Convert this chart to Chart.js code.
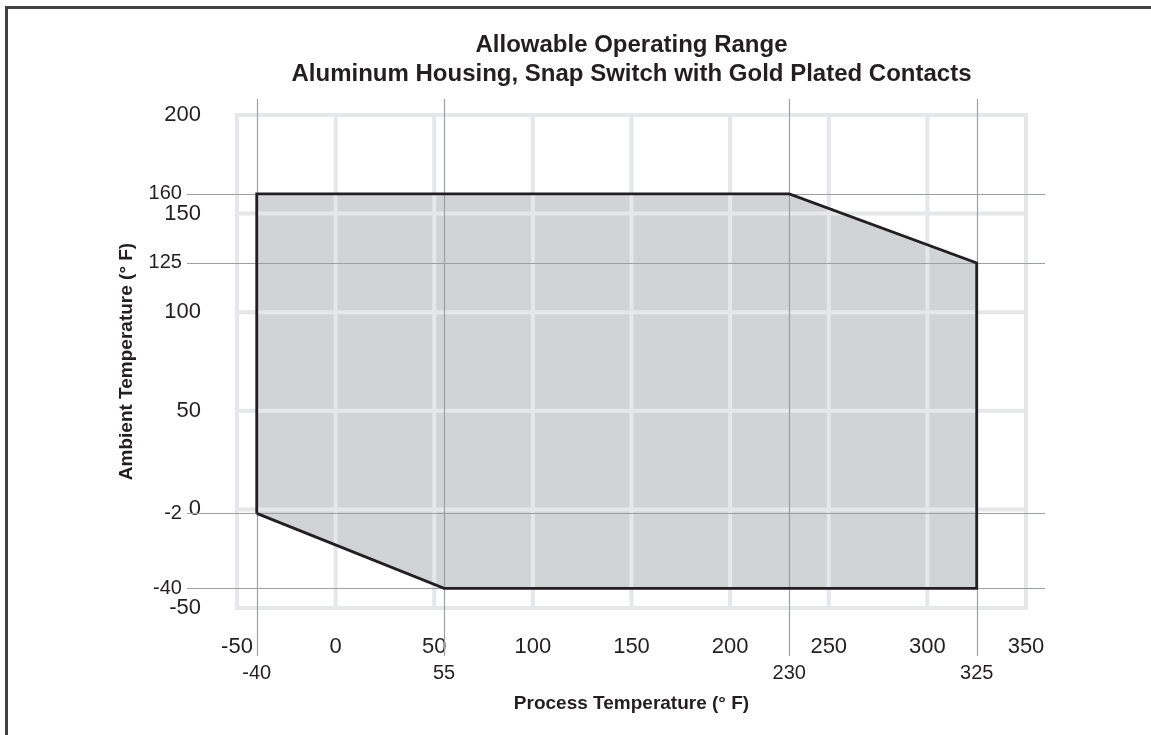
<!DOCTYPE html>
<html>
<head>
<meta charset="utf-8">
<title>Allowable Operating Range</title>
<script src="https://cdn.jsdelivr.net/npm/chart.js@4.4.0/dist/chart.umd.min.js"></script>
<style>
  html, body { margin: 0; padding: 0; background: #fff; }
  #wrap { position: relative; width: 1151px; height: 735px; overflow: hidden; }
  #frame {
    position: absolute; left: 5px; top: 6px; right: 0; bottom: 0;
    border-top: 3px solid #404040; border-left: 3px solid #404040;
    pointer-events: none;
  }
</style>
</head>
<body>
<div id="wrap">
  <canvas id="chart" width="1151" height="735"></canvas>
  <div id="frame"></div>
</div>
<script>
// outline of the allowed region, walked around clockwise
const processTemp = [-40, -40, 230, 325, 325, 55, -40];
const ambientTemp = [-2, 160, 160, 125, -40, -40, -2];

const xTicks = [-50, 0, 50, 100, 150, 200, 250, 300, 350];
const yTicks = [-50, 0, 50, 100, 150, 200];
// corner values marked with thin lines + small labels
const xLimits = [-40, 55, 230, 325];
const yLimits = [160, 125, -2, -40];

const titleLines = [
  "Allowable Operating Range",
  "Aluminum Housing, Snap Switch with Gold Plated Contacts",
];

const ink = "#231f20";
const family = "'Liberation Sans', Arial, Helvetica, sans-serif";

const points = processTemp.map((x, i) => ({ x: x, y: ambientTemp[i] }));

// grid has to sit on top of the grey fill but under the black outline
const gridOverFill = {
  id: "gridOverFill",
  afterDatasetDraw(chart, args) {
    if (args.index !== 0) return;
    const ctx = chart.ctx;
    const xs = chart.scales.x;
    const ys = chart.scales.y;
    const area = chart.chartArea;
    const line = (x1, y1, x2, y2) => {
      ctx.beginPath();
      ctx.moveTo(x1, y1);
      ctx.lineTo(x2, y2);
      ctx.stroke();
    };
    ctx.save();
    ctx.strokeStyle = "#e6e7e8";
    ctx.lineWidth = 4;
    ctx.lineCap = "square";
    xTicks.forEach((v) => {
      const px = xs.getPixelForValue(v);
      line(px, area.top, px, area.bottom);
    });
    yTicks.forEach((v) => {
      const py = ys.getPixelForValue(v);
      line(area.left, py, area.right, py);
    });

    ctx.strokeStyle = "#9d9fa2";
    ctx.lineWidth = 1.2;
    ctx.lineCap = "butt";
    xLimits.forEach((v) => {
      const px = Math.round(xs.getPixelForValue(v)) + 0.5;
      line(px, area.top - 16, px, area.bottom + 48);
    });
    yLimits.forEach((v) => {
      const py = Math.round(ys.getPixelForValue(v)) + 0.5;
      line(area.left - 50, py, area.right + 19, py);
    });
    ctx.restore();
  },
};

new Chart(document.getElementById("chart"), {
  type: "line",
  data: {
    datasets: [
      {
        // grey area
        data: points,
        fill: "shape",
        backgroundColor: "#d1d3d4",
        borderWidth: 0,
        pointRadius: 0,
        order: 2,
      },
      {
        // black outline
        data: points,
        fill: false,
        borderColor: ink,
        borderWidth: 2.8,
        borderJoinStyle: "miter",
        pointRadius: 0,
        order: 1,
      },
    ],
  },
  options: {
    responsive: false,
    animation: false,
    events: [],
    layout: { padding: { left: 0, right: 125, top: 0, bottom: 0 } },
    plugins: {
      legend: { display: false },
      tooltip: { enabled: false },
      title: {
        display: true,
        fullSize: false,
        text: titleLines,
        color: ink,
        font: { family: family, size: 24, weight: "bold", lineHeight: 1.2 },
        padding: { top: 31, bottom: 26.4 },
      },
    },
    scales: {
      x: {
        type: "linear",
        position: "bottom",
        weight: 0,
        min: -50,
        max: 350,
        afterBuildTicks: (s) => { s.ticks = xTicks.map((v) => ({ value: v })); },
        afterFit: (s) => { s.height = 50; },
        grid: { display: false, drawTicks: false },
        border: { display: false },
        ticks: {
          color: ink,
          font: { family: family, size: 22 },
          padding: 26,
          maxRotation: 0,
          autoSkip: false,
        },
      },
      x2: {
        type: "linear",
        position: "bottom",
        weight: 1,
        min: -50,
        max: 350,
        afterBuildTicks: (s) => { s.ticks = xLimits.map((v) => ({ value: v })); },
        afterFit: (s) => { s.height = 77; },
        grid: { display: false, drawTicks: false },
        border: { display: false },
        ticks: {
          color: ink,
          font: { family: family, size: 20 },
          padding: 3.5,
          maxRotation: 0,
          autoSkip: false,
        },
        title: {
          display: true,
          text: "Process Temperature (\u00b0 F)",
          color: ink,
          font: { family: family, size: 19, weight: "bold" },
          padding: { top: 0, bottom: 19.6 },
        },
      },
      y: {
        type: "linear",
        position: "left",
        weight: 0,
        min: -50,
        max: 200,
        afterBuildTicks: (s) => { s.ticks = yTicks.map((v) => ({ value: v })); },
        afterFit: (s) => { s.width = 87; },
        grid: { display: false, drawTicks: false },
        border: { display: false },
        ticks: {
          color: ink,
          font: { family: family, size: 22 },
          padding: 36,
          autoSkip: false,
        },
      },
      y2: {
        type: "linear",
        position: "left",
        weight: 1,
        min: -50,
        max: 200,
        afterBuildTicks: (s) => { s.ticks = yLimits.map((v) => ({ value: v })); },
        afterFit: (s) => { s.width = 150; },
        grid: { display: false, drawTicks: false },
        border: { display: false },
        ticks: {
          // mirrored so the labels may reach past this box to x = 182
          mirror: true,
          crossAlign: "far",
          color: ink,
          font: { family: family, size: 20 },
          padding: -1.4,
          autoSkip: false,
        },
        title: {
          display: true,
          text: "Ambient Temperature (\u00b0 F)",
          color: ink,
          font: { family: family, size: 19, weight: "bold" },
          padding: { top: 115.6, bottom: 0 },
        },
      },
    },
  },
  plugins: [gridOverFill],
});
</script>
</body>
</html>
